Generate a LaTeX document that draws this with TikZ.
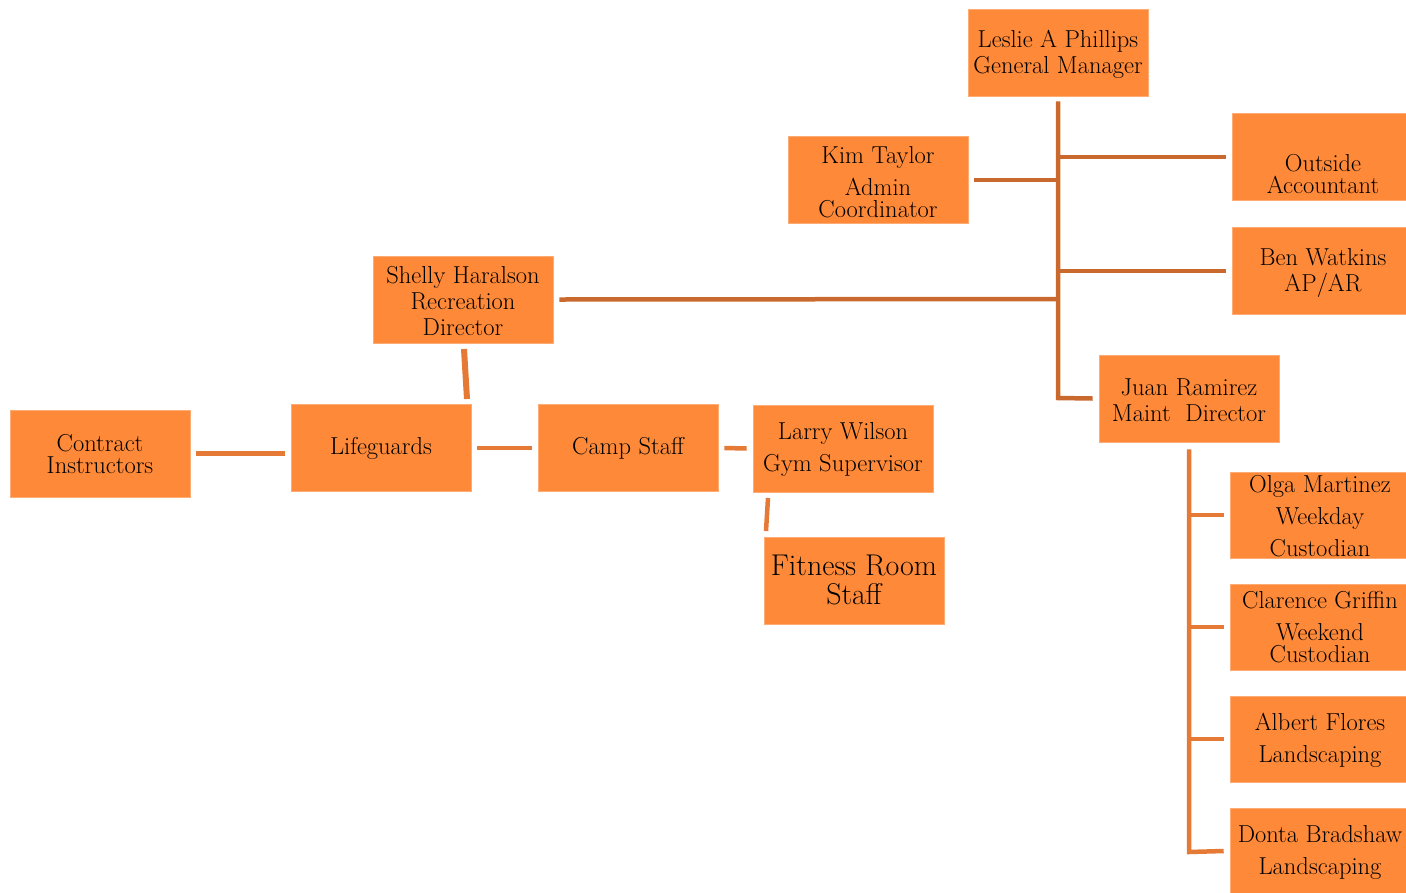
\documentclass[tikz,border=0pt]{standalone}
\usepackage{fontspec}
\usetikzlibrary{calc}
\definecolor{boxfill}{RGB}{254,137,56}
\definecolor{linedark}{RGB}{201,105,46}
\definecolor{linelight}{RGB}{228,122,53}
\tikzset{
  box/.style={fill=boxfill, draw=boxfill!70!white, line width=0.6pt, minimum width=180pt, minimum height=87pt, inner sep=0pt},
  txt/.style={align=center, inner sep=0pt, font=\fontsize{24.5}{26}\selectfont},
  bigtxt/.style={align=center, inner sep=0pt, font=\fontsize{30}{29}\selectfont},
  conn/.style={draw=linedark, line width=4.5pt},
  connl/.style={draw=linelight, line width=4.5pt}
}
\begin{document}
\begin{tikzpicture}[x=1pt,y=-1pt]
\useasboundingbox (0,0) rectangle (1406,892);
% boxes
\node[box] (gm) at (1058,52.5) {};
\node[txt] (gmt) at (1058,54) {Leslie A Phillips\\General Manager};
\node[box] (kim) at (878,180) {};
\node[txt] (kimt) at (878,182) {Kim Taylor\\[6pt]Admin\\[-4pt]Coordinator};
\node[box, minimum width=174pt] (out) at (1319,157) {};
\node[txt] (outt) at (1323,174) {Outside\\[-4pt]Accountant};
\node[box, minimum width=174pt] (ben) at (1319,271) {};
\node[txt] (bent) at (1323,273) {Ben Watkins\\AP/AR};
\node[box] (juan) at (1189,398.5) {};
\node[txt] (juant) at (1189,400) {Juan Ramirez\\Maint\ \ Director};
\node[box] (shelly) at (463,299.5) {};
\node[txt] (shellyt) at (463,301) {Shelly Haralson\\Recreation\\Director};
\node[box] (life) at (381,448) {};
\node[txt] (lifet) at (381,448) {Lifeguards};
\node[box] (camp) at (628,448) {};
\node[txt] (campt) at (628,448) {Camp Staff};
\node[box] (larry) at (843,448.5) {};
\node[txt] (larryt) at (843,449) {Larry Wilson\\[6pt]Gym Supervisor};
\node[box] (fit) at (854,580.5) {};
\node[bigtxt] (fitt) at (854,580) {Fitness Room\\Staff};
\node[box] (contract) at (100,453.5) {};
\node[txt] (contractt) at (100,454) {Contract\\[-4pt]Instructors};
\node[box, minimum width=176pt, minimum height=86pt] (olga) at (1318,515) {};
\node[txt] (olgat) at (1320,516) {Olga Martinez\\[6pt]Weekday\\[6pt]Custodian};
\node[box, minimum width=176pt, minimum height=86pt] (clar) at (1318,627) {};
\node[txt] (clart) at (1320,627) {Clarence Griffin\\[6pt]Weekend\\[-4pt]Custodian};
\node[box, minimum width=176pt, minimum height=86pt] (albert) at (1318,739) {};
\node[txt] (albertt) at (1320,740) {Albert Flores\\[6pt]Landscaping};
\node[box, minimum width=176pt, minimum height=86pt] (donta) at (1318,851) {};
\node[txt] (dontat) at (1320,852) {Donta Bradshaw\\[6pt]Landscaping};
% GM tree
\coordinate (gtop) at ($(gm.south)+(0,5)$);
\coordinate (gbot) at (1058,398);
\draw[conn] (gtop) -- (gbot) -- ($(juan.west)+(-6,0)$);
\draw[conn] ($(kim.east)+(6,0)$) -- (1058,180);
\draw[conn] (1058,157) -- ($(out.west)+(-6,0)$);
\draw[conn] (1058,271) -- ($(ben.west)+(-6,0)$);
\draw[conn] ($(shelly.east)+(6,0)$) -- (1058,299);
% Juan tree
\coordinate (jtop) at ($(juan.south)+(0,7)$);
\draw[connl] (jtop) -- (1189,852) -- ($(donta.west)+(-6,0)$);
\draw[connl] (1189,515) -- ($(olga.west)+(-6,0)$);
\draw[connl] (1189,627) -- ($(clar.west)+(-6,0)$);
\draw[connl] (1189,739) -- ($(albert.west)+(-6,0)$);
% recreation side
\draw[connl, line width=6pt] (464,349) -- (467,399);
\draw[connl] ($(life.east)+(6,0)$) -- ($(camp.west)+(-6,0)$);
\draw[connl] ($(contract.east)+(6,0)$) -- (285,453.5);
\draw[connl] ($(camp.east)+(6,0)$) -- ($(larry.west)+(-6,0)$);
\draw[connl] (768,498) -- (766,531);
\end{tikzpicture}
\end{document}
